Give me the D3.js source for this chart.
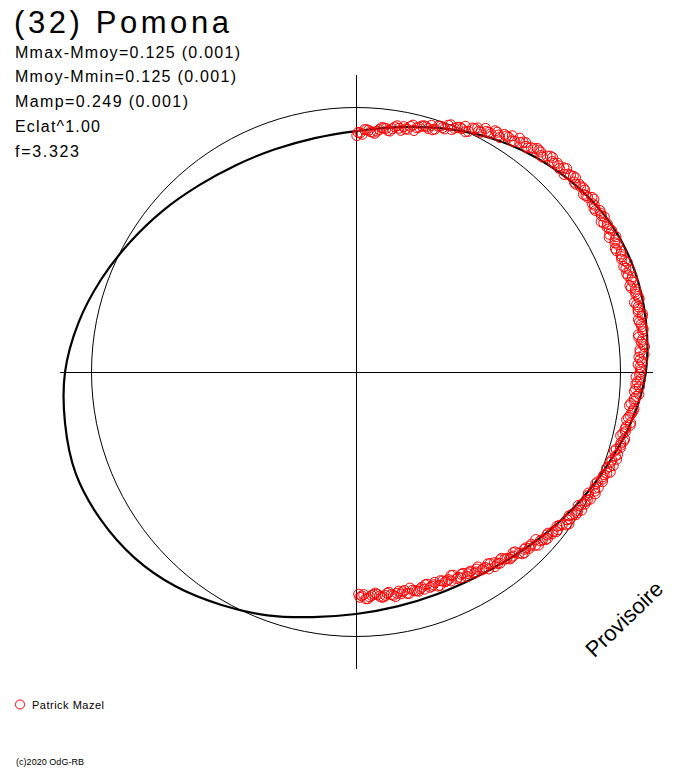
<!DOCTYPE html>
<html>
<head>
<meta charset="utf-8">
<script src="https://cdn.jsdelivr.net/npm/d3@7"></script>
<style>
html,body{margin:0;padding:0;background:#fff;}
svg{display:block;font-family:"Liberation Sans",Arial,sans-serif;}
</style>
</head>
<body>
<svg id="chart" width="688" height="768"></svg>
<script>
// ---- Data ----
const title = "(32) Pomona";
const infoLines = ["Mmax-Mmoy=0.125 (0.001)", "Mmoy-Mmin=0.125 (0.001)", "Mamp=0.249 (0.001)", "Eclat^1.00", "f=3.323"];
const observer = "Patrick Mazel";
const copyright = "(c)2020 OdG-RB";
const stamp = "Provisoire";

// fitted curve: phase angle (deg) and magnitude deviation (brighter = positive)
const curveAngle = [0,10,20,30,40,50,60,70,80,90,100,110,120,130,140,150,160,170,180,190,200,210,220,230,240,250,260,270,280,290,300,310,320,330,340,350];
const curveMag = [-0.089,-0.060,-0.021,0.021,0.059,0.091,0.115,0.121,0.113,0.096,0.059,0.015,-0.023,-0.057,-0.085,-0.102,-0.106,-0.100,-0.085,-0.059,-0.021,0.017,0.059,0.093,0.115,0.127,0.117,0.100,0.066,0.025,-0.015,-0.049,-0.078,-0.096,-0.104,-0.102];

// observations (Patrick Mazel), night A: phase angle (deg) and magnitude deviation
const obsAngleA = [0.5,1.5,2.5,3.5,4.5,5.5,6.5,7.5,8.5,9.5,10.5,11.5,12.5,13.5,14.5,15.5,16.5,17.5,18.5,19.5,
20.5,21.5,22.5,23.5,24.5,25.5,26.5,27.5,28.5,29.5,30.5,31.5,32.5,33.5,34.5,35.5,36.5,37.5,38.5,39.5,
40.5,41.5,42.5,43.5,44.5,45.5,46.5,47.5,48.5,49.5,50.5,51.5,52.5,53.5,54.5,55.5,56.5,57.5,58.5,59.5,
60.5,61.5,62.5,63.5,64.5,65.5,66.5,67.5,68.5,69.5,70.5,71.5,72.5,73.5,74.5,75.5,76.5,77.5,78.5,79.5,
80.5,81.5,82.5,83.5,84.5,85.5,86.5,87.5,88.5,89.5,90.5,91.5,92.5,93.5,94.5,95.5,96.5,97.5,98.5,99.5,
100.5,101.5,102.5,103.5,104.5,105.5,106.5,107.5,108.5,109.5,110.5,111.5,112.5,113.5,114.5,115.5,116.5,117.5,118.5,119.5,
120.5,121.5,122.5,123.5,124.5,125.5,126.5,127.5,128.5,129.5,130.5,131.5,132.5,133.5,134.5,135.5,136.5,137.5,138.5,139.5,
140.5,141.5,142.5,143.5,144.5,145.5,146.5,147.5,148.5,149.5,150.5,151.5,152.5,153.5,154.5,155.5,156.5,157.5,158.5,159.5,
160.5,161.5,162.5,163.5,164.5,165.5,166.5,167.5,168.5,169.5,170.5,171.5,172.5,173.5,174.5,175.5,176.5,177.5,178.5,179.3];
const obsMagA = [-0.094,-0.101,-0.083,-0.090,-0.095,-0.079,-0.071,-0.079,-0.070,-0.056,
-0.071,-0.062,-0.049,-0.061,-0.044,-0.034,-0.040,-0.040,-0.020,-0.020,
-0.004,-0.015,0.001,0.003,-0.002,0.022,0.031,0.022,0.035,0.036,
0.052,0.040,0.058,0.071,0.058,0.066,0.079,0.067,0.079,0.087,
0.076,0.090,0.100,0.088,0.093,0.102,0.085,0.100,0.108,0.093,
0.101,0.105,0.096,0.110,0.097,0.092,0.106,0.100,0.087,0.103,
0.100,0.091,0.108,0.094,0.086,0.103,0.094,0.099,0.088,0.105,
0.091,0.097,0.086,0.102,0.098,0.106,0.091,0.092,0.105,0.086,
0.093,0.098,0.077,0.090,0.090,0.077,0.091,0.076,0.067,0.077,
0.072,0.076,0.059,0.059,0.073,0.057,0.046,0.060,0.054,0.044,
0.056,0.042,0.043,0.029,0.045,0.038,0.026,0.037,0.039,0.021,
0.023,0.033,0.015,0.016,0.003,0.015,0.009,-0.009,0.008,-0.004,
-0.011,0.000,-0.009,-0.023,-0.020,-0.011,-0.030,-0.042,-0.031,-0.039,
-0.051,-0.043,-0.055,-0.049,-0.071,-0.065,-0.076,-0.068,-0.092,-0.085,
-0.084,-0.096,-0.105,-0.099,-0.096,-0.120,-0.114,-0.113,-0.126,-0.117,
-0.131,-0.120,-0.138,-0.133,-0.149,-0.132,-0.139,-0.145,-0.133,-0.151,
-0.141,-0.154,-0.139,-0.145,-0.141,-0.148,-0.139,-0.154,-0.144,-0.149,
-0.144,-0.158,-0.148,-0.143,-0.155,-0.157,-0.148,-0.142,-0.153,-0.160];

// observations (Patrick Mazel), night B
const obsAngleB = [0.2,1,2,3,4,5,6,7,8,9,10,11,12,13,14,15,16,17,18,19,
20,21,22,23,24,25,26,27,28,29,30,31,32,33,34,35,36,37,38,39,
40,41,42,43,44,45,46,47,48,49,50,51,52,53,54,55,56,57,58,59,
60,61,62,63,64,65,66,67,68,69,70,71,72,73,74,75,76,77,78,79,
80,81,82,83,84,85,86,87,88,89,90,91,92,93,94,95,96,97,98,99,
100,101,102,103,104,105,106,107,108,109,110,111,112,113,114,115,116,117,118,119,
120,121,122,123,124,125,126,127,128,129,130,131,132,133,134,135,136,137,138,139,
140,141,142,143,144,145,146,147,148,149,150,151,152,153,154,155,156,157,158,159,
160,161,162,163,164,165,166,167,168,169,170,171,172,173,174,175,176,177,178,179];
const obsMagB = [-0.106,-0.096,-0.083,-0.085,-0.091,-0.086,-0.071,-0.072,-0.080,-0.062,
-0.064,-0.055,-0.062,-0.042,-0.048,-0.037,-0.036,-0.025,-0.035,-0.017,
-0.022,0.001,-0.006,0.005,0.017,0.004,0.024,0.022,0.043,0.036,
0.053,0.045,0.059,0.059,0.054,0.079,0.075,0.068,0.076,0.088,
0.086,0.076,0.098,0.088,0.097,0.088,0.107,0.097,0.106,0.094,
0.103,0.106,0.091,0.097,0.112,0.100,0.092,0.103,0.107,0.093,
0.096,0.105,0.084,0.099,0.101,0.086,0.096,0.091,0.106,0.093,
0.089,0.105,0.101,0.088,0.099,0.104,0.085,0.095,0.091,0.103,
0.088,0.094,0.095,0.077,0.084,0.095,0.077,0.071,0.084,0.074,
0.075,0.059,0.064,0.073,0.055,0.063,0.059,0.042,0.058,0.049,
0.039,0.056,0.040,0.035,0.047,0.037,0.040,0.022,0.031,0.023,
0.035,0.015,0.023,0.014,0.020,0.000,0.004,0.015,-0.006,0.000,
-0.001,-0.020,-0.012,-0.009,-0.028,-0.026,-0.017,-0.037,-0.032,-0.041,
-0.052,-0.041,-0.052,-0.071,-0.057,-0.069,-0.076,-0.066,-0.078,-0.095,
-0.085,-0.093,-0.106,-0.095,-0.109,-0.116,-0.102,-0.114,-0.131,-0.118,
-0.131,-0.128,-0.138,-0.126,-0.131,-0.151,-0.141,-0.138,-0.149,-0.133,
-0.144,-0.139,-0.154,-0.149,-0.138,-0.144,-0.158,-0.141,-0.151,-0.156,
-0.138,-0.148,-0.155,-0.143,-0.148,-0.161,-0.153,-0.142,-0.158,-0.148];

// ---- Layout ----
const svg = d3.select("#chart");
const cx = 356, cy = 372, R0 = 264.5, axisHalf = 297;

const angle = d3.scaleLinear().domain([0, 360]).range([0, 2 * Math.PI]);
const radius = d3.scaleLinear().domain([0, 0.1]).range([R0, R0 * 1.1]);

const g = svg.append("g").attr("transform", `translate(${cx},${cy})`);

// axes
g.append("line").attr("x1", -axisHalf + 1).attr("x2", axisHalf).attr("y1", 0.5).attr("y2", 0.5)
  .attr("stroke", "#000").attr("stroke-width", 1);
g.append("line").attr("x1", 0.5).attr("x2", 0.5).attr("y1", -axisHalf).attr("y2", axisHalf)
  .attr("stroke", "#000").attr("stroke-width", 1);

// reference circle (mean magnitude)
g.append("circle").attr("r", radius(0)).attr("fill", "none").attr("stroke", "#000").attr("stroke-width", 1);

// fitted curve
const curveData = curveAngle.map((a, i) => ({a, m: curveMag[i]}));
const radialLine = d3.lineRadial()
  .angle(d => angle(d.a))
  .radius(d => radius(d.m))
  .curve(d3.curveCatmullRomClosed.alpha(0.5));
g.append("path").datum(curveData).attr("d", radialLine)
  .attr("fill", "none").attr("stroke", "#000").attr("stroke-width", 2.2);

// observations
const obsData = obsAngleA.map((a, i) => ({a, m: obsMagA[i]}))
  .concat(obsAngleB.map((a, i) => ({a, m: obsMagB[i]})));
g.selectAll("circle.obs").data(obsData).join("circle")
  .attr("class", "obs")
  .attr("cx", d => radius(d.m) * Math.sin(angle(d.a)))
  .attr("cy", d => -radius(d.m) * Math.cos(angle(d.a)))
  .attr("r", 5)
  .attr("fill", "none")
  .attr("stroke", "#ff0000")
  .attr("stroke-width", 1);

// ---- Texts ----
svg.append("text").attr("x", 14).attr("y", 33)
  .attr("font-size", 31).attr("textLength", 215).attr("lengthAdjust", "spacing")
  .text(title);

const infoWidths = [225, 221, 173, 85, 64];
infoLines.forEach((t, i) => {
  svg.append("text").attr("x", 15).attr("y", 57.5 + i * 24.8)
    .attr("font-size", 16).attr("textLength", infoWidths[i]).attr("lengthAdjust", "spacing")
    .text(t);
});

// legend
svg.append("circle").attr("cx", 20).attr("cy", 704.5).attr("r", 4.5)
  .attr("fill", "none").attr("stroke", "#ff0000").attr("stroke-width", 1);
svg.append("text").attr("x", 32).attr("y", 709).attr("font-size", 11)
  .attr("textLength", 72).attr("lengthAdjust", "spacing").text(observer);

svg.append("text").attr("x", 16).attr("y", 765).attr("font-size", 9)
  .attr("textLength", 68).attr("lengthAdjust", "spacing").text(copyright);

svg.append("text")
  .attr("transform", "translate(624,619) rotate(-44)")
  .attr("text-anchor", "middle")
  .attr("dy", "0.35em")
  .attr("font-size", 22)
  .text(stamp);
</script>
</body>
</html>
